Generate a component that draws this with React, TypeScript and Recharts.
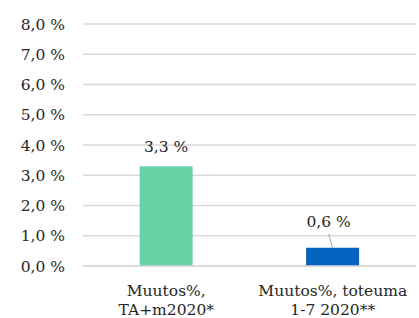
import React from 'react';
import { BarChart, Bar, XAxis, YAxis, CartesianGrid, Cell, LabelList } from 'recharts';

const categories = ['Muutos%,|TA+m2020*', 'Muutos%, toteuma|1-7 2020**'];
const values = [3.3, 0.6];
const barColors = ['#66D3A7', '#0563C0'];
const yTicks = [0, 1, 2, 3, 4, 5, 6, 7, 8];

const data = categories.map((c, i) => ({ name: c, value: values[i] }));

const FONT = 'DejaVu Serif';
const TEXT = '#262626';
const FS = 15.5;

const fmt = (v: number) => v.toFixed(1).replace('.', ',') + ' %';

const XTick = (props: any) => {
  const { x, y, payload } = props;
  const lines = String(payload.value).split('|');
  return (
    <g>
      {lines.map((l, i) => (
        <text key={i} x={x} y={y + 22 + i * 19} textAnchor="middle" fontFamily={FONT} fontSize={FS} fill={TEXT}>
          {l}
        </text>
      ))}
    </g>
  );
};

const BarLabel = (props: any) => {
  const { x, y, width, value, index } = props;
  const cx = x + width / 2;
  if (index === 1) {
    return (
      <g>
        <line x1={cx - 4} y1={y - 14} x2={cx} y2={y} stroke="#a6a6a6" strokeWidth={1} />
        <text x={cx - 4} y={y - 21} textAnchor="middle" fontFamily={FONT} fontSize={FS} fill={TEXT}>
          {fmt(value)}
        </text>
      </g>
    );
  }
  return (
    <text x={cx} y={y - 14} textAnchor="middle" fontFamily={FONT} fontSize={FS} fill={TEXT}>
      {fmt(value)}
    </text>
  );
};

export default function App() {
  return (
    <div style={{ position: 'absolute', left: 0, top: 0, width: 419, height: 318, background: '#fff' }}>
      <BarChart width={419} height={318} data={data} margin={{ top: 24, right: 3, bottom: 0, left: 0 }} barCategoryGap="34%">
        <CartesianGrid vertical={false} stroke="#d9d9d9" strokeWidth={1.5} />
        <XAxis dataKey="name" axisLine={{ stroke: '#d9d9d9', strokeWidth: 1.5 }} tickLine={false} tick={<XTick />} interval={0} height={52} />
        <YAxis
          domain={[0, 8]}
          ticks={yTicks}
          width={83}
          axisLine={false}
          tickLine={false}
          tickSize={0}
          tickMargin={18}
          tickFormatter={fmt}
          tick={{ fontFamily: FONT, fontSize: FS, fill: TEXT }}
        />
        <Bar dataKey="value" isAnimationActive={false}>
          {data.map((d, i) => (
            <Cell key={i} fill={barColors[i]} />
          ))}
          <LabelList dataKey="value" content={<BarLabel />} />
        </Bar>
      </BarChart>
    </div>
  );
}
